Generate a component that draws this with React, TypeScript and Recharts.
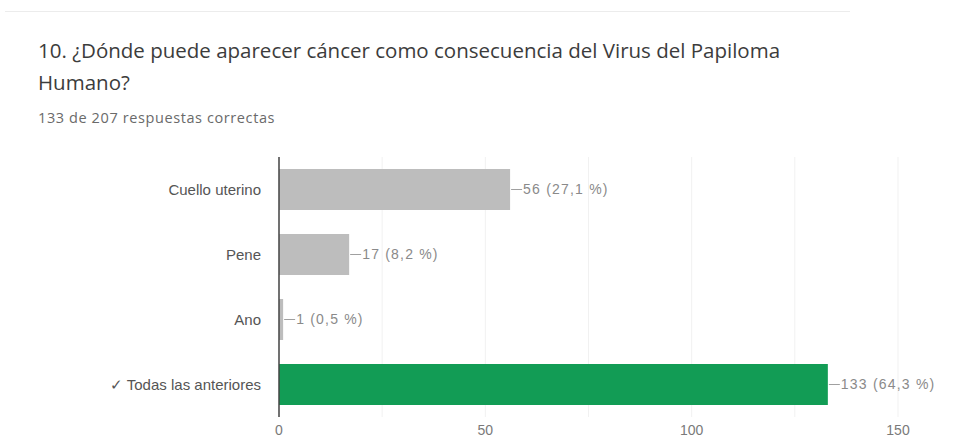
import { Bar, BarChart, CartesianGrid, Cell, LabelList, XAxis, YAxis } from "recharts";

const categories = ["Cuello uterino", "Pene", "Ano", "✓ Todas las anteriores"];
const counts = [56, 17, 1, 133];
const percents = [27.1, 8.2, 0.5, 64.3];
const correct = [false, false, false, true];
const xTicks = [0, 25, 50, 75, 100, 125, 150];

const data = categories.map((name, i) => ({
  name,
  count: counts[i],
  pct: percents[i],
  correct: correct[i],
}));

const fmtPct = (p: number) => p.toFixed(1).replace(".", ",");

function ValueLabel(props: any) {
  const { x, y, width, height, index } = props;
  const endX = x + width;
  const cy = y + height / 2;
  const d = data[index];
  return (
    <g>
      <line x1={endX + 1} x2={endX + 12} y1={cy} y2={cy} stroke="#a0a0a0" strokeWidth={1} />
      <text x={endX + 13} y={cy} dy="0.35em" fontSize={14} letterSpacing={1.2} fill="#8a8a8a" fontFamily="'Liberation Sans', Arial, sans-serif">
        {`${d.count} (${fmtPct(d.pct)} %)`}
      </text>
    </g>
  );
}

export default function App() {
  return (
    <div style={{ position: "absolute", left: 0, top: 0, width: 960, height: 442, background: "#fff" }}>
      <div style={{ position: "absolute", left: 5, top: 11, width: 845, height: 1, background: "#ececec" }} />
      <div style={{ position: "absolute", left: 38, top: 34, width: 760, fontFamily: "'Open Sans', sans-serif", fontSize: 20.5, lineHeight: "32px", color: "#3c3c3c" }}>
        10. ¿Dónde puede aparecer cáncer como consecuencia del Virus del Papiloma Humano?
      </div>
      <div style={{ position: "absolute", left: 38, top: 108, fontFamily: "'Open Sans', sans-serif", fontSize: 14.5, letterSpacing: 0.6, color: "#6a6a6a" }}>
        133 de 207 respuestas correctas
      </div>
      <div style={{ position: "absolute", left: 0, top: 0 }}>
        <BarChart
          width={960}
          height={442}
          data={data}
          layout="vertical"
          margin={{ top: 157, right: 62, bottom: 0, left: 0 }}
        >
          <CartesianGrid horizontal={false} stroke="#f1f1f1" />
          <XAxis
            type="number"
            domain={[0, 150]}
            ticks={xTicks}
            tickFormatter={(v: number) => (v % 50 === 0 ? String(v) : "")}
            axisLine={false}
            tickLine={false}
            height={25}
            tick={{ fontSize: 14, fill: "#7a7a7a", fontFamily: "'Liberation Sans', Arial, sans-serif" }}
          />
          <YAxis
            type="category"
            dataKey="name"
            width={279}
            axisLine={{ stroke: "#444", strokeWidth: 1.5 }}
            tickLine={false}
            tickMargin={12}
            tick={{ fontSize: 15, fill: "#555", fontFamily: "'Liberation Sans', Arial, sans-serif" }}
          />
          <Bar dataKey="count" barSize={41} isAnimationActive={false}>
            {data.map((d, i) => (
              <Cell key={i} fill={d.correct ? "#129c55" : "#bdbdbd"} />
            ))}
            <LabelList dataKey="count" content={<ValueLabel />} />
          </Bar>
        </BarChart>
      </div>
    </div>
  );
}
